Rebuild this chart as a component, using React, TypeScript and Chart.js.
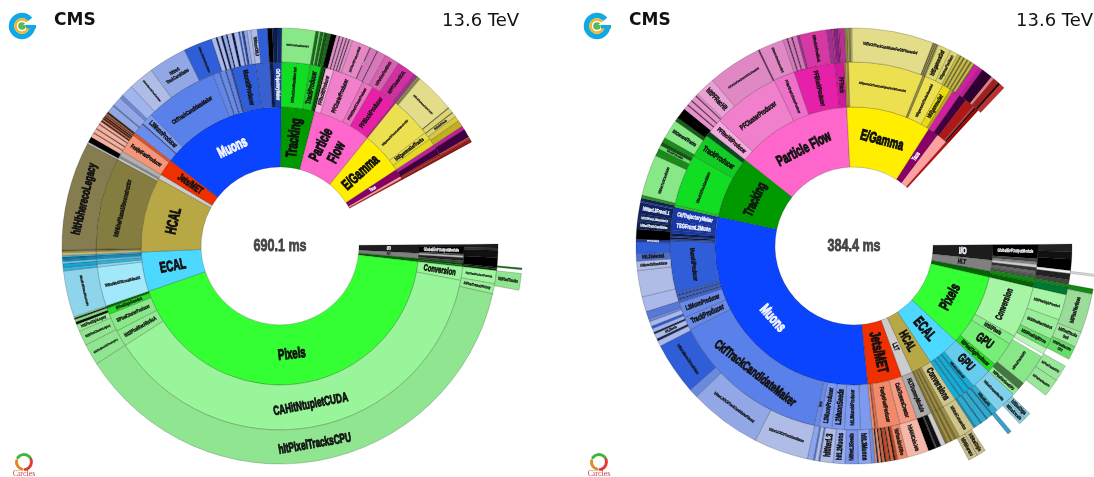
import React, { useEffect, useRef } from "react";
import { Chart, registerables } from "chart.js";

Chart.register(...registerables);

// ---------- shared reading: the plotted span starts just above the right horizontal ----------
const startShare = 89.5;
const fullShare = 360;

// ---------- LEFT chart ----------
const leftTotal = "690.1 ms";

const leftNames1 = ["I/O", "HLT", "", "Pixels", "ECAL", "HCAL", "", "Jets/MET", "Muons", "Tracking", "Particle\nFlow", "E/Gamma", "Taus", "", ""];
const leftValues1 = [3.5, 2.2, 1.3, 154.5, 16.5, 31.5, 2, 7, 52.5, 14, 24.5, 17.7, 3.3, 1, 0.5];
const leftColors1 = ["#1c1c1c", "#808080", "#006600", "#33ff33", "#4dd8ff", "#b8a845", "#cccccc", "#f03000", "#0a44ff", "#009900", "#ff66cc", "#ffee00", "#880066", "#ffa0a0", "#c01010"];

const leftNames2 = [
  "", "GlobalEvFOutputModule", "", "", "", "", "", "",
  "Conversion", "CAHitNtupletCUDA", "hltSiPixelRecHitsSoA", "SiPixelClusterProducer", "SiPixelDigisFromSoA", "",
  "hltEcalMultiFitUncalibRecHit", "", "", "", "", "", "",
  "", "", "", "hltHbhePhase1Reconstructor",
  "", "", "",
  "FastjetFastProducer", "",
  "", "", "L3MuonProducer", "CkfTrackCandidateMaker", "", "", "", "", "", "", "MuonIdProducer", "", "", "CkfTrajectoryMaker",
  "CkfTrackCandidateMaker iter0", "TrackProducer", "", "",
  "PFRecHitProducer", "PFClusterProducer", "PFMultiDepthClusterProducer", "PFBlockProducer", "",
  "hltEgammaCkfTrackCandidatesForGSF", "hltEgammaGsfTracks", "",
  "", "", "", "", "",
];
const leftValues2 = [
  0.8, 2.2, 0.5, 0.7, 0.9, 0.7, 0.6, 0.6,
  4.3, 136.5, 5.2, 5.7, 2, 0.8,
  12.4, 0.9, 1, 0.6, 0.6, 0.6, 0.4,
  0.8, 0.4, 0.3, 29,
  0.8, 0.6, 1.6,
  6, 1,
  3.5, 0.3, 3.7, 23.2, 2, 0.3, 1.7, 0.3, 1.4, 0.6, 7.5, 4.3, 1.2, 2.5,
  9, 3.5, 1, 0.5,
  2.5, 9.8, 3.5, 8.2, 0.5,
  13, 2.5, 2.2,
  1.3, 2, 0.5, 0.4, 0.6,
];
const leftColors2 = [
  "#1a1a1a", "#000000", "#555555", "#bbbbbb", "#222222", "#444444", "#005500", "#117711",
  "#99f599", "#99f599", "#90e890", "#88e888", "#22e022", "#0a660a",
  "#a0e8fa", "#8cd8ee", "#2bb5e0", "#70c8e8", "#12a0d0", "#1090c0", "#50c0e8",
  "#c8b870", "#a89850", "#5f5a28", "#857c40",
  "#c4c4c4", "#8c8c8c", "#b0b0b0",
  "#f5957a", "#e8501f",
  "#6a8cec", "#334f99", "#7b9af0", "#5a80ea", "#6486e6", "#3f62c8", "#688ae8", "#3654b0", "#6284e6", "#2a4aa0", "#2f5ed8", "#3a60d0", "#0a1e50", "#1f3fa8",
  "#11dd22", "#14cc22", "#005500", "#003300",
  "#f5aee0", "#f080cc", "#ee70c0", "#e820a8", "#b02080",
  "#ece050", "#e8dc48", "#e4d820",
  "#c0209a", "#400040", "#b01818", "#d03030", "#901010",
];

const leftNames3 = [
  "", "", "", "", "", "",
  "PixelTrackProducerFromSoA", "hltPixelTracksCPUOnly", "hltPixelTracksCPU", "hltSiPixelRecHitsFromLegacy", "hltSiPixelClustersLegacy", "hltSiPixelDigisLegacy", "", "", "", "",
  "hltEcalMultiFitUncalibRecHitCPU", "", "", "", "", "", "",
  "", "", "", "hltHbherecoLegacy",
  "", "",
  "", "", "", "", "", "", "",
  "", "", "", "", "", "", "", "", "", "",
  "", "", "", "", "",
  "hltIterL3MuonCkfTrackCandidates", "hltIter0\nTrackCandidates", "hltIterL3OICkfTrackCandidates",
  "", "", "", "", "", "", "", "", "", "", "", "", "", "",
  "hltMuonCkfL3", "", "", "", "",
  "hltCkfTrackCandidatesIter0", "", "", "", "", "", "", "",
  "", "", "", "", "", "", "", "", "",
  "hltPFRecHitProducerHBHE", "hltParticleFlowClusterHBHE", "", "", "", "hltParticleFlowBlock", "hltPFClusterECAL", "",
  "", "", "", "", "hltEleCkfTrackCandidatesForGSF", "", "", "", "hltEleGsfTracks", "", "",
  "", "", "", "", "",
];
const leftValues3 = [
  1, 0.6, 2, 2.5, 0.4, 0.5,
  3.5, 2.7, 134.6, 5.7, 4, 1.9, 0.7, 0.7, 0.4, 0.3,
  12.4, 0.9, 1, 0.6, 0.6, 0.6, 0.4,
  0.8, 0.4, 0.3, 29,
  0.5, 1.5,
  1.2, 0.2, 1.1, 0.2, 1.2, 0.2, 0.7,
  0.5, 0.3, 0.4, 0.2, 0.4, 0.3, 0.3, 0.2, 0.5, 0.1,
  2, 0.3, 2.5, 1, 3.2,
  6.8, 10.2, 7.7,
  1.2, 0.4, 1, 0.5, 0.9, 0.3, 1.2, 0.6, 1.2, 0.4, 0.5, 0.6, 0.8, 1,
  1.7, 2.7, 1.3, 1.2, 1.3,
  9, 0.8, 0.4, 0.8, 0.3, 0.8, 0.9, 1.5,
  0.8, 0.2, 0.8, 0.2, 0.7, 0.2, 0.6, 0.2, 0.8,
  4.9, 0.2, 1.9, 0.2, 2.3, 4, 5, 1,
  0.3, 0.2, 0.3, 0.2, 10.6, 0.2, 1.4, 0.2, 1.2, 1.4, 1.7,
  1, 2.3, 0.5, 0.7, 0.3,
];
const leftColors3 = [
  "#1a1a1a", "#333333", "#111111", "#000000", "#1a1a1a", "#004400",
  "#a0f5a0", "#99ee99", "#90e690", "#90e690", "#90e690", "#99ee99", "#111111", "#79e079", "#222222", "#99ee99",
  "#8ed4ea", "#36b4dc", "#18a4d4", "#70c8e8", "#1090c0", "#0a7aa8", "#50c0e8",
  "#c8b870", "#a89850", "#5f5a28", "#857c50",
  "#bbbbbb", "#000000",
  "#f5b0a0", "#804030", "#f5b0a0", "#804030", "#f5b0a0", "#804030", "#f5b0a0",
  "#5a2a1a", "#f08060", "#4a2010", "#e85020", "#3a1a10", "#c06040", "#5a2a1a", "#f09070", "#4a2010", "#333333",
  "#92a8e6", "#5a74c8", "#92a8e6", "#7088d4", "#a0b4ee",
  "#aebce6", "#92a8e6", "#2f5ed8",
  "#aab8ea", "#0a1a4a", "#aab8ea", "#0a1a4a", "#92a8e6", "#0a1a4a", "#aab8ea", "#0a1a4a", "#aab8ea", "#2f5ed8", "#aab8ea", "#2a4aa0", "#92a8e6", "#aab8ea",
  "#aebce6", "#2f5ed8", "#000000", "#0a1e50", "#142a6a",
  "#88e888", "#156f15", "#88e888", "#156f15", "#66cc66", "#115511", "#156f15", "#000000",
  "#e090c8", "#5a2a50", "#e090c8", "#5a2a50", "#e090c8", "#5a2a50", "#e090c8", "#5a2a50", "#e090c8",
  "#e688c4", "#6a3060", "#d878bc", "#6a3060", "#d878bc", "#d860b0", "#d030a0", "#a03090",
  "#888040", "#c8c070", "#888040", "#c8c070", "#e3dc88", "#777030", "#ddd570", "#777030", "#ddd570", "#d8c840", "#c0b020",
  "#c0209a", "#400040", "#c04040", "#a01818", "#880000",
];

const leftNames4 = ["", "", "", "hltPixelTracks"];
const leftValues4 = [5.7, 0.4, 0.9, 4];
const leftColors4 = ["transparent", "#117711", "transparent", "#90e690"];

// ---------- RIGHT chart ----------
const rightTotal = "384.4 ms";

const rightNames1 = ["I/O", "HLT", "", "Pixels", "ECAL", "HCAL", "L1T", "Jets/MET", "Muons", "Tracking", "Particle Flow", "E/Gamma", "Taus", "", ""];
const rightValues1 = [6.4, 4.7, 2.4, 30, 13.6, 8.6, 4.8, 14.4, 107.8, 26.2, 48.6, 35.6, 4.4, 4.5, 1];
const rightColors1 = ["#1c1c1c", "#808080", "#006600", "#33ff33", "#4dd8ff", "#b8a845", "#cccccc", "#f03000", "#0a44ff", "#009900", "#ff66cc", "#ffee00", "#880066", "#ffa0a0", "#c01010"];

const rightNames2 = [
  "GlobalEvFOutputModule", "", "", "", "", "", "", "", "",
  "Conversion", "hltSiPixels", "GPU", "SiPixelDigiProducer",
  "GPU", "hltEcalUncalibRecHit", "", "", "", "", "", "",
  "Conversions", "", "", "", "", "", "",
  "HLTDummyModule",
  "CaloTowersCreator", "FastjetFastProducer", "", "", "",
  "", "hltL3MuonIdProducer", "L2MuonSeeds", "L3MuonProducer", "hltPF", "CkfTrackCandidateMaker", "TrackProducer", "L3MuonProducer", "", "", "", "", "",
  "MuonIdProducer", "", "", "", "", "", "TSGFromL2Muon", "CkfTrajectoryMaker",
  "", "hltIter0CkfTrackCandidates", "TrackProducer", "",
  "PFRecHitProducer", "PFClusterProducer", "PFMultiDepthClusterProducer", "PFBlockProducer", "PFTrack",
  "", "", "", "hltEgammaCkfTrackCandidatesForGSFUnseeded", "", "", "", "hltEgammaGsfTracksUnseeded", "hltEgammaGsf", "",
  "", "", "", "", "", "",
];
const rightValues2 = [
  4.5, 1, 0.8, 1, 1, 1.2, 1, 1.5, 1.5,
  16.4, 2.8, 7.8, 3,
  6.5, 1.5, 0.4, 1.6, 0.3, 1.4, 0.3, 1.6,
  4.4, 1, 0.5, 0.8, 0.4, 0.8, 0.7,
  4.8,
  5.5, 7, 0.8, 0.3, 0.8,
  3.6, 5, 4, 4, 1.6, 50.4, 4.2, 4.8, 1, 0.3, 1, 0.3, 0.7,
  16.3, 0.6, 0.5, 0.5, 0.8, 1, 3, 4.2,
  0.8, 16.3, 7.5, 1.6,
  4.6, 21.3, 6.7, 13, 3,
  0.5, 0.3, 0.5, 23.7, 0.3, 0.2, 0.3, 6.1, 2.7, 1,
  2.4, 2.5, 3, 0.5, 0.5, 1,
];
const rightColors2 = [
  "#000000", "#444444", "#888888", "#cccccc", "#333333", "#666666", "#555555", "#118811", "#006600",
  "#a5f5a5", "#88ee88", "#77ee77", "#22dd22",
  "#66ccee", "#14add8", "#0f8ab0", "#14add8", "#0f8ab0", "#14add8", "#0f8ab0", "#14add8",
  "#cfc48a", "#a09040", "#807030", "#a09040", "#706428", "#a09040", "#807030",
  "#aaaaaa",
  "#f59a80", "#f08a6a", "#e07050", "#b04a30", "#f09070",
  "#7b9af0", "#7b9af0", "#7b9af0", "#7b9af0", "#6a8ae8", "#5a80ea", "#6a8ae8", "#6a8ae8", "#3f62c8", "#22408f", "#3f62c8", "#22408f", "#3f62c8",
  "#2f5ed8", "#2a4aa0", "#0a1e50", "#1f3fa8", "#0a1e50", "#1838a8", "#1838a8", "#1838a8",
  "#22cc22", "#11dd22", "#11cc22", "#044a1e",
  "#f5a8dc", "#f080cc", "#ee70c8", "#e620a8", "#d0189a",
  "#b09030", "#ece050", "#b09030", "#ece050", "#a89a30", "#ece050", "#a89a30", "#ece050", "#e8dc10", "#c0a020",
  "#d020a0", "#400040", "#b01818", "#c04040", "#220000", "#aa0000",
];

const rightNames3 = [
  "", "", "", "", "", "", "", "",
  "hltSiPixelDigisFromSoA", "hltSiPixelRecHitsSoA", "hltSiPixelDigiErrors", "", "",
  "hltPixelTracksGPU", "", "hltPixelVerticesGPU",
  "hltEcalCompactRecHits", "hltEcalRecHit", "", "", "", "", "", "", "",
  "hltHcalConversion", "", "", "", "", "", "",
  "", "", "", "",
  "hltAK4CaloJets", "hltFixedGridRho", "", "", "", "", "", "", "", "", "", "", "",
  "", "hltL3Muons", "hltIterL3Seeds", "hltL2Muons", "hltIterL3", "", "", "", "",
  "hltIterL3OICkfTrackCandidates", "hltIterL3IOCkfTrackCandidatesFiltered", "", "hltIterL3MuonCkfCandidates",
  "", "", "hltL2Seeds", "", "", "", "", "", "",
  "", "", "hltMuonCkfCandidates", "hltL3Selected", "", "hltPFMuonMerging", "", "",
  "hltIter0TrackCandidates", "hltTSGFromL2MuonsIterL3", "hltIterL3FromL1", "", "",
  "", "hltMainTrackCandidates", "", "hltTrackProducerMain", "", "", "hltGeneralTracks", "", "",
  "", "", "", "", "", "", "",
  "hltPFRecHit", "hltParticleFlowClusterECALUnseeded", "", "hltParticleFlowClusterHBHE", "", "", "", "", "", "", "hltParticleFlowBlock", "", "", "", "", "",
  "", "", "", "", "hltEleCkfTrackCandidatesForGSFUnseeded", "", "", "", "", "", "", "hltEgammaGsf", "hltEgammaPixelMatch", "", "", "", "", "", "", "", "", "", "",
  "", "", "", "", "", "", "",
];
const rightValues3 = [
  2, 2, 3, 0.8, 1.7, 1.2, 0.8, 2,
  6.8, 5.5, 2.7, 1.7, 0.8,
  8.5, 2, 2,
  6, 1.5, 0.4, 1.4, 0.3, 1.6, 0.3, 1.5, 0.6,
  4.4, 1, 0.5, 0.8, 0.4, 0.8, 0.7,
  1.3, 1.2, 0.4, 1.9,
  5.8, 2.6, 0.6, 0.5, 0.8, 0.3, 0.9, 0.4, 0.7, 0.3, 0.6, 0.4, 0.5,
  1, 3.5, 3.5, 3.1, 3.5, 0.4, 1, 0.4, 1.6,
  14.5, 19.4, 2.4, 14,
  1.5, 0.6, 1.4, 0.5, 1, 0.7, 1.3, 0.8, 2,
  4, 7, 2.5, 2, 3, 0.8, 2.7, 0,
  2, 2, 3, 0.4, 0.8,
  0.8, 11, 2, 1, 1, 1.3, 5.2, 1, 2.9,
  1.3, 0.3, 1.2, 0.3, 1.4, 0.3, 0.5,
  5.3, 14.4, 0.4, 6.7, 1, 0.3, 1, 0.3, 1.2, 0.7, 7.3, 1.4, 0.4, 1.2, 0.4, 1.3,
  0.8, 0.3, 0.5, 0.4, 21.8, 0.3, 0.2, 0.3, 0.2, 0.3, 0.2, 3.5, 2.2, 0.7, 0.3, 0.7, 0.3, 0.8, 0.3, 0.7, 0.4, 0.7, 0.2,
  1.5, 1, 3, 0.8, 1.6, 0.6, 1.4,
];
const rightColors3 = [
  "#222222", "#111111", "#000000", "#eeeeee", "#222222", "#444444", "#118811", "#007733",
  "#a5f5a5", "#99ee99", "#66dd66", "#bbf5bb", "transparent",
  "#88e888", "#447744", "#90e890",
  "#7fd0ea", "#30aad0", "#0f7a9a", "#30aad0", "#0f7a9a", "#30aad0", "#0f7a9a", "#30aad0", "#1a90b8",
  "#cfc48a", "#a09040", "#807030", "#a09040", "#706428", "#a09040", "#807030",
  "#cccccc", "#111111", "#444444", "#000000",
  "#f5b8a8", "#f08a6a", "#c04a2a", "#3a1a10", "#e06040", "#4a2010", "#c04a2a", "#222222", "#e06040", "#222222", "#f09070", "#333333", "#f09070",
  "#6d8ce8", "#8aa4f0", "#7b96ec", "#9ab0f2", "#aebce6", "#5a78d8", "#aebce6", "#5a78d8", "#8aa4f0",
  "#aebce6", "#92a8e6", "#6a8ae0", "#2f5ed8",
  "#aab8ec", "#1a2a60", "#aebce6", "#1a2a60", "#a4b4e8", "#2f5ed8", "#aab8ec", "#6a8ae0", "#5a78d8",
  "#aab8ec", "#aebce6", "#aebce6", "#5070d0", "#2f5ed8", "#1e3a9a", "#000000", "#000000",
  "#10224f", "#142a60", "#10225f", "#2244aa", "#10224f",
  "#2a8f2a", "#88e888", "#1a8a1a", "#66dd66", "#115511", "#1a8a1a", "#88e888", "#155f15", "#000000",
  "#e890cc", "#5a2a50", "#e890cc", "#5a2a50", "#e890cc", "#5a2a50", "#e890cc",
  "#e9a0d4", "#e088c4", "#6a3060", "#e088c4", "#d878bc", "#6a3060", "#d878bc", "#6a3060", "#d878bc", "#a03090", "#d638a4", "#a03090", "#c02a98", "#8a2080", "#b02890", "#c02a98",
  "#888040", "#c8c070", "#888040", "#c8c070", "#e3dc88", "#777030", "#d8d070", "#777030", "#d8d070", "#777030", "#d8d070", "#ddd570", "#ddd570", "#c8bc40", "#777030", "#c8bc40", "#777030", "#c8bc40", "#777030", "#c8bc40", "#777030", "#c8bc40", "#777030",
  "#d020a0", "#c0189a", "#300030", "#e08080", "#a02020", "#220000", "#c03030",
];

const rightNames4 = [
  "", "", "", "", "",
  "hltPixelVertices", "hltPixelTracks\nSoA", "hltSiPixelRecHits\nCPU", "",
  "hltPixelTracksGPU", "hltPixelVerticesGPU", "",
  "hltEcalDigis", "hltEcalUncalib", "", "", "",
  "hltHcalDigis", "hltHbhereco",
];
const rightValues4 = [
  7.2, 0.5, 3, 1.2, 0.1,
  9.3, 3.7, 3.3, 1.8,
  4, 4.3, 5.7,
  1.7, 1.7, 2.7, 1, 6.6,
  2.2, 2.3,
];
const rightColors4 = [
  "transparent", "#dddddd", "transparent", "#118811", "transparent",
  "#99dd99", "#a0e8a0", "#66dd66", "transparent",
  "#99e899", "#99e899", "transparent",
  "#88cce0", "#88cce0", "transparent", "#3aa0c8", "transparent",
  "#c8bc88", "#c8bc88",
];

// ---------- drawing helpers ----------
const LABEL_FONT = '"Liberation Sans", sans-serif';
const CONDENSE = 0.64;
const HOLE = 79;
const OUTER = 243;
const RING_WIDTHS = [25, 34, 45, 60]; // outermost first, as a doughnut orders its datasets
const RING_FONT = [7, 13, 13, 15];

const luminance = (c: string) => {
  const n = parseInt(c.slice(1), 16);
  return (0.3 * (n >> 16) + 0.59 * ((n >> 8) & 255) + 0.11 * (n & 255)) / 255;
};

const withRest = (values: number[]) => [...values, fullShare - values.reduce((a, b) => a + b, 0)];

function labelPlugin(names: string[][], total: string, logoX: number) {
  return {
    id: "sunburstLabels",
    afterDatasetsDraw(chart: any) {
      const ctx: CanvasRenderingContext2D = chart.ctx;
      names.forEach((ringNames, ringIndex) => {
        const arcs = chart.getDatasetMeta(ringIndex).data;
        const colors = chart.data.datasets[ringIndex].backgroundColor as string[];
        ringNames.forEach((name, i) => {
          if (!name) return;
          const a = arcs[i];
          const { x, y, startAngle, endAngle, innerRadius, outerRadius } = a.getProps(
            ["x", "y", "startAngle", "endAngle", "innerRadius", "outerRadius"],
            true,
          );
          const mid = (startAngle + endAngle) / 2;
          const r = (innerRadius + outerRadius) / 2;
          const thick = outerRadius - innerRadius;
          const sweep = r * (endAngle - startAngle);
          const radial = sweep < 0.83 * thick;
          const along = radial ? thick * 0.8 : sweep * 0.72;
          const across = radial ? sweep * 0.72 : thick * 0.55;
          const lines = name.split("\n");
          ctx.save();
          ctx.font = `bold 100px ${LABEL_FONT}`;
          const w = (CONDENSE * Math.max(...lines.map((l) => ctx.measureText(l).width))) / 100;
          const size = Math.min(RING_FONT[ringIndex], across / lines.length / 0.95, along / w);
          let top = ((mid + Math.PI / 2) * 180) / Math.PI;
          top = ((top % 360) + 360) % 360;
          let rot: number;
          if (radial) rot = top < 180 ? top - 90 : top + 90;
          else rot = top > 90 && top < 270 ? top - 180 : top;
          ctx.translate(x + r * Math.cos(mid), y + r * Math.sin(mid));
          ctx.rotate((rot * Math.PI) / 180);
          ctx.scale(CONDENSE, 1);
          ctx.font = `bold ${size}px ${LABEL_FONT}`;
          ctx.textAlign = "center";
          ctx.textBaseline = "middle";
          const light = luminance(colors[i]) < 0.28;
          ctx.fillStyle = light ? "#f2f4ff" : "#111111";
          ctx.strokeStyle = ctx.fillStyle;
          ctx.lineWidth = size * 0.07;
          lines.forEach((l, k) => {
            const dy = (k - (lines.length - 1) / 2) * size * 1.15;
            ctx.fillText(l, 0, dy);
            ctx.strokeText(l, 0, dy);
          });
          ctx.restore();
        });
      });

      const first = chart.getDatasetMeta(0).data[0];
      ctx.save();
      ctx.translate(first.x, first.y);
      ctx.scale(0.74, 1);
      ctx.font = `bold 17px ${LABEL_FONT}`;
      ctx.fillStyle = "#444444";
      ctx.strokeStyle = "#444444";
      ctx.lineWidth = 0.8;
      ctx.textAlign = "center";
      ctx.textBaseline = "middle";
      ctx.fillText(total, 0, 0);
      ctx.strokeText(total, 0, 0);
      ctx.restore();

      drawTopLogo(ctx, logoX + 22, 26);
      drawBottomLogo(ctx, logoX + 24, 462);
    },
  };
}

function drawTopLogo(ctx: CanvasRenderingContext2D, cx: number, cy: number) {
  ctx.save();
  const ring = (r: number, w: number, c: string) => {
    ctx.beginPath();
    ctx.arc(cx, cy, r, 0, Math.PI * 2);
    ctx.strokeStyle = c;
    ctx.lineWidth = w;
    ctx.stroke();
  };
  ring(10.5, 5.5, "#12a8e4");
  ring(6.5, 2.6, "#f6b62c");
  ring(4.4, 1.4, "#ffffff");
  ring(2, 3.6, "#56b856");
  ctx.fillStyle = "#ffffff";
  ctx.beginPath();
  ctx.moveTo(cx + 1, cy - 1);
  ctx.lineTo(cx + 15, cy - 12);
  ctx.lineTo(cx + 15, cy - 1);
  ctx.closePath();
  ctx.fill();
  ctx.fillStyle = "#12a8e4";
  ctx.fillRect(cx + 4, cy - 1, 10, 3.5);
  ctx.restore();
}

function drawBottomLogo(ctx: CanvasRenderingContext2D, cx: number, cy: number) {
  ctx.save();
  ctx.lineWidth = 3;
  ctx.lineCap = "round";
  const arc = (a: number, b: number, c: string) => {
    ctx.beginPath();
    ctx.arc(cx, cy, 7.5, (a * Math.PI) / 180, (b * Math.PI) / 180);
    ctx.strokeStyle = c;
    ctx.stroke();
  };
  arc(215, 325, "#3cb83c");
  arc(-20, 80, "#e03a3a");
  arc(105, 190, "#e08a2a");
  ctx.font = '8px "Liberation Serif", serif';
  ctx.fillStyle = "#c04040";
  ctx.textAlign = "center";
  ctx.textBaseline = "middle";
  ctx.fillText("Circles", cx, cy + 12);
  ctx.restore();
}

function makeChart(
  canvas: HTMLCanvasElement,
  rings: { names: string[]; values: number[]; colors: string[] }[],
  total: string,
  padding: { top: number; left: number; right: number },
  logoX: number,
) {
  return new Chart(canvas, {
    type: "doughnut",
    data: {
      labels: rings[rings.length - 1].names,
      datasets: rings.map((ring, i) => ({
        data: withRest(ring.values),
        weight: RING_WIDTHS[i],
        backgroundColor: [...ring.colors, "transparent"],
        borderColor: [...ring.colors, "transparent"].map((c) => (c === "transparent" ? "transparent" : "rgba(0,0,0,0.38)")),
        borderWidth: 0.5,
        clip: false,
      })),
    } as any,
    options: {
      animation: false,
      responsive: false,
      maintainAspectRatio: false,
      rotation: startShare,
      circumference: fullShare,
      radius: OUTER,
      cutout: `${(HOLE / OUTER) * 100}%`,
      layout: { padding },
      events: [],
      plugins: { legend: { display: false }, tooltip: { enabled: false } },
    } as any,
    plugins: [labelPlugin(rings.map((r) => r.names), total, logoX)],
  } as any);
}

const headStyle = (left: number, top: number, bold: boolean): React.CSSProperties => ({
  position: "absolute",
  left,
  top,
  font: `${bold ? "bold " : ""}${bold ? 17 : 18}px "DejaVu Sans", sans-serif`,
  color: "#111",
  lineHeight: "20px",
  whiteSpace: "nowrap",
});

export default function App() {
  const leftRef = useRef<HTMLCanvasElement>(null);
  const rightRef = useRef<HTMLCanvasElement>(null);

  useEffect(() => {
    const left = makeChart(
      leftRef.current!,
      [
        { names: leftNames4, values: leftValues4, colors: leftColors4 },
        { names: leftNames3, values: leftValues3, colors: leftColors3 },
        { names: leftNames2, values: leftValues2, colors: leftColors2 },
        { names: leftNames1, values: leftValues1, colors: leftColors1 },
      ],
      leftTotal,
      { top: 15, left: 0, right: 7 },
      0,
    );
    const right = makeChart(
      rightRef.current!,
      [
        { names: rightNames4, values: rightValues4, colors: rightColors4 },
        { names: rightNames3, values: rightValues3, colors: rightColors3 },
        { names: rightNames2, values: rightValues2, colors: rightColors2 },
        { names: rightNames1, values: rightValues1, colors: rightColors1 },
      ],
      rightTotal,
      { top: 15, left: 47, right: 0 },
      8,
    );
    return () => {
      left.destroy();
      right.destroy();
    };
  }, []);

  return (
    <div style={{ position: "fixed", left: 0, top: 0, width: 1094, height: 477, overflow: "hidden", background: "#fff" }}>
      <canvas ref={leftRef} width={567} height={477} style={{ position: "absolute", left: 0, top: 0 }} />
      <canvas ref={rightRef} width={527} height={477} style={{ position: "absolute", left: 567, top: 0 }} />
      <div style={headStyle(54, 9, true)}>CMS</div>
      <div style={headStyle(442, 10, false)}>13.6 TeV</div>
      <div style={headStyle(629, 9, true)}>CMS</div>
      <div style={headStyle(1016, 10, false)}>13.6 TeV</div>
    </div>
  );
}
